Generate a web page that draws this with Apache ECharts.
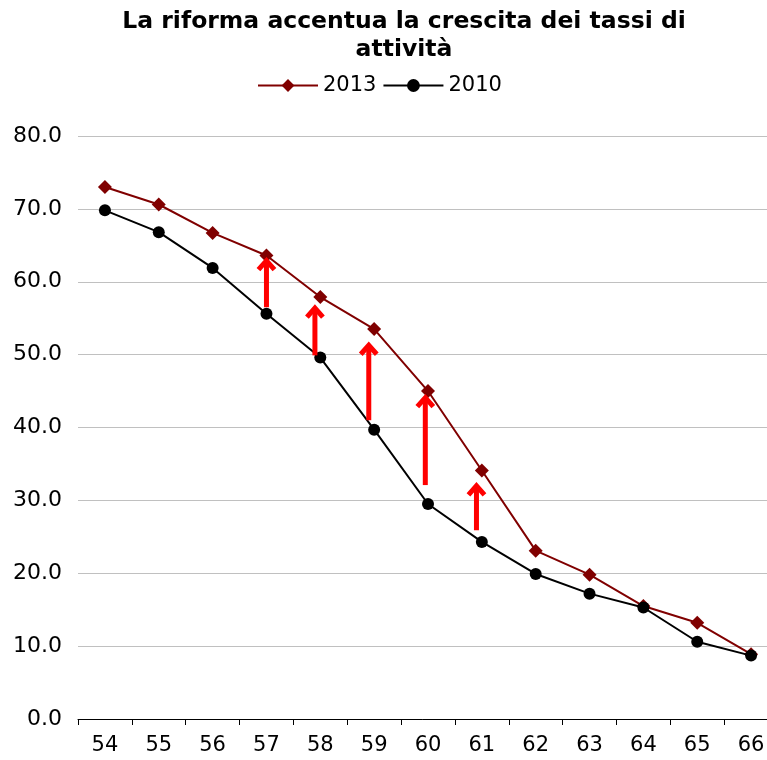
<!DOCTYPE html>
<html>
<head>
<meta charset="utf-8">
<script src="https://cdn.jsdelivr.net/npm/echarts@6/dist/echarts.min.js"></script>
<style>
  html, body { margin: 0; padding: 0; background: #fff; }
  #chart { width: 767px; height: 760px; }
</style>
</head>
<body>
<div id="chart"></div>
<script>
// età
const ages = ["54", "55", "56", "57", "58", "59", "60", "61", "62", "63", "64", "65", "66"];
// tassi di attività
const rate2013 = [73.0, 70.6, 66.7, 63.6, 57.9, 53.5, 45.0, 34.1, 23.1, 19.8, 15.5, 13.2, 8.9];
const rate2010 = [69.8, 66.8, 61.9, 55.6, 49.6, 39.7, 29.5, 24.3, 19.9, 17.2, 15.3, 10.6, 8.7];
// frecce rosse: posizione (indice età), da, a
const arrowPos = [3.0, 3.9, 4.9, 5.95, 6.9];
const arrowFrom = [56.5, 49.9, 41.0, 32.1, 25.9];
const arrowTo = [63.3, 56.8, 51.7, 44.5, 32.4];

const font = "DejaVu Sans, Verdana, sans-serif";

const chart = echarts.init(document.getElementById("chart"));

const option = {
  animation: false,
  title: {
    text: "La riforma accentua la crescita dei tassi di\nattività",
    left: 399,
    textAlign: "center",
    top: 3,
    textStyle: {
      fontFamily: font,
      fontWeight: "bold",
      fontSize: 23.5,
      lineHeight: 28,
      color: "#000"
    }
  },
  legend: {
    data: ["2013", "2010"],
    left: 257,
    top: 75,
    padding: 0,
    itemWidth: 60,
    itemHeight: 16,
    itemGap: 6,
    textStyle: {
      fontFamily: font,
      fontSize: 21,
      color: "#000"
    }
  },
  grid: {
    left: 78,
    width: 700,
    top: 136,
    bottom: 41,
    containLabel: false,
    outerBoundsMode: "none"
  },
  xAxis: [{
    type: "category",
    data: ages,
    boundaryGap: true,
    axisLine: { lineStyle: { color: "#000", width: 1 } },
    axisTick: { show: true, length: 6, lineStyle: { color: "#000" } },
    axisLabel: {
      fontFamily: font,
      fontSize: 21,
      color: "#000",
      margin: 16
    },
    splitLine: { show: false }
  }, {
    type: "value",
    min: -0.5,
    max: 12.5,
    show: false
  }],
  yAxis: {
    type: "value",
    min: 0,
    max: 80,
    interval: 10,
    axisLine: { show: false },
    axisTick: { show: false },
    axisLabel: {
      fontFamily: font,
      fontSize: 22,
      color: "#000",
      margin: 16,
      formatter: v => v.toFixed(1)
    },
    splitLine: { lineStyle: { color: "#c0c0c0", width: 1 } }
  },
  series: [
    {
      name: "2013",
      type: "line",
      data: rate2013,
      symbol: "diamond",
      symbolSize: 14,
      itemStyle: { color: "#800000" },
      lineStyle: { color: "#800000", width: 2 },
      z: 3
    },
    {
      name: "2010",
      type: "line",
      data: rate2010,
      symbol: "circle",
      symbolSize: 12,
      itemStyle: { color: "#000" },
      lineStyle: { color: "#000", width: 2 },
      z: 4
    },
    {
      name: "frecce",
      type: "custom",
      xAxisIndex: 1,
      data: arrowPos.map((x, i) => [x, arrowFrom[i], arrowTo[i]]),
      encode: { x: 0, y: [1, 2] },
      renderItem: (params, api) => {
        const bottom = api.coord([api.value(0), api.value(1)]);
        const tip = api.coord([api.value(0), api.value(2)]);
        const style = { stroke: "#ff0000", lineWidth: 5, fill: null, lineJoin: "miter", lineCap: "butt" };
        return {
          type: "group",
          children: [
            {
              type: "line",
              shape: { x1: bottom[0], y1: bottom[1], x2: tip[0], y2: tip[1] + 3 },
              style: style
            },
            {
              type: "polyline",
              shape: { points: [[tip[0] - 8, tip[1] + 12], [tip[0], tip[1] + 3], [tip[0] + 8, tip[1] + 12]] },
              style: style
            }
          ]
        };
      },
      z: 5
    }
  ]
};

chart.setOption(option);
</script>
</body>
</html>
